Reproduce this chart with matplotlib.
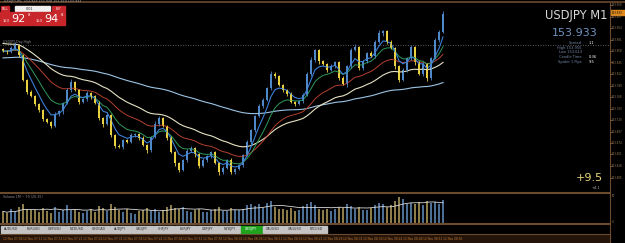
import matplotlib
matplotlib.use('Agg')
import matplotlib.pyplot as plt
import numpy as np
import pandas as pd
from matplotlib.patches import Rectangle

W, H = 625, 243

# USDJPY M1 closes, one per bar
closes = [
    153.858, 153.856, 153.864, 153.870, 153.850, 153.800, 153.776, 153.768, 153.752, 153.740,
    153.722, 153.716, 153.708, 153.732, 153.738, 153.754, 153.780, 153.796, 153.780, 153.756,
    153.762, 153.774, 153.768, 153.754, 153.724, 153.712, 153.730, 153.690, 153.668, 153.666,
    153.680, 153.676, 153.690, 153.692, 153.684, 153.670, 153.660, 153.686, 153.712, 153.724,
    153.708, 153.684, 153.656, 153.634, 153.620, 153.640, 153.658, 153.664, 153.652, 153.628,
    153.640, 153.648, 153.656, 153.634, 153.616, 153.624, 153.640, 153.616, 153.622, 153.630,
    153.650, 153.676, 153.700, 153.728, 153.748, 153.760, 153.784, 153.812, 153.808, 153.790,
    153.780, 153.772, 153.756, 153.752, 153.758, 153.770, 153.812, 153.840, 153.860, 153.838,
    153.832, 153.820, 153.828, 153.836, 153.804, 153.792, 153.828, 153.860, 153.866, 153.824,
    153.838, 153.854, 153.848, 153.876, 153.894, 153.898, 153.876, 153.864, 153.828, 153.800,
    153.820, 153.844, 153.866, 153.836, 153.812, 153.832, 153.804, 153.844, 153.880, 153.896,
    153.933,
]
first_open = 153.862

# wick lengths in points (0.001)
wick_up = [
    3, 2, 4, 6, 2, 3, 2, 4, 2, 3,
    2, 3, 2, 5, 3, 2, 4, 6, 3, 2,
    3, 4, 2, 3, 5, 2, 6, 3, 2, 4,
    2, 3, 5, 2, 3, 4, 2, 3, 6, 5,
    3, 2, 4, 3, 2, 3, 5, 4, 2, 3,
    4, 3, 2, 3, 2, 4, 3, 5, 2, 3,
    3, 4, 2, 3, 4, 5, 3, 6, 4, 3,
    2, 3, 4, 2, 3, 5, 4, 6, 3, 2,
    3, 2, 4, 3, 2, 5, 3, 4, 6, 2,
    3, 2, 5, 4, 6, 3, 2, 4, 3, 2,
    4, 3, 5, 2, 3, 4, 2, 3, 4, 5,
    6,
]
wick_dn = [
    2, 3, 2, 3, 4, 2, 3, 2, 4, 3,
    3, 2, 4, 2, 3, 5, 2, 3, 2, 4,
    2, 3, 5, 2, 3, 6, 2, 3, 4, 2,
    3, 2, 2, 4, 3, 2, 5, 3, 2, 4,
    2, 3, 2, 5, 3, 2, 3, 2, 6, 3,
    2, 4, 3, 2, 5, 3, 2, 4, 3, 2,
    3, 2, 4, 3, 2, 3, 2, 3, 4, 2,
    3, 4, 2, 3, 2, 3, 2, 4, 3, 5,
    2, 3, 2, 4, 3, 2, 5, 3, 2, 3,
    4, 3, 2, 3, 2, 5, 3, 2, 6, 3,
    2, 4, 3, 5, 2, 3, 6, 3, 2, 3,
    2,
]
volumes = [
    45, 38, 52, 41, 60, 72, 55, 48, 50, 43,
    58, 47, 40, 62, 44, 51, 66, 49, 53, 42,
    39, 47, 55, 41, 63, 57, 46, 70, 61, 48,
    44, 52, 40, 37, 45, 50, 58, 47, 55, 43,
    49, 60, 68, 57, 52, 61, 46, 42, 48, 55,
    44, 41, 50, 53, 62, 47, 45, 58, 51, 49,
    54, 66, 72, 64, 70, 58, 75, 82, 60, 55,
    52, 48, 57, 46, 50, 63, 71, 78, 66, 55,
    49, 52, 47, 53, 61, 58, 70, 64, 55, 62,
    50, 48, 56, 68, 74, 70, 62, 66, 80, 95,
    88, 72, 76, 70, 78, 66, 82, 75, 79, 72,
    85,
]

price_labels = [153.950, 153.927, 153.904, 153.881, 153.858, 153.835, 153.812, 153.789,
                153.766, 153.743, 153.720, 153.697, 153.674, 153.651, 153.628, 153.605]
symbols = ['AUDUSD', 'EURUSD', 'GBPUSD', 'NZDUSD', 'USDCAD', 'AUDJPY', 'CADJPY', 'CHFJPY',
           'EURJPY', 'GBPJPY', 'NZDJPY', 'USDJPY', 'XAUUSD', 'XAGUSD', 'BTCUSD']
date_labels = ['12 Nov 07:06', '12 Nov 07:11', '12 Nov 07:16', '12 Nov 07:21', '12 Nov 07:26',
               '12 Nov 07:31', '12 Nov 07:36', '12 Nov 07:41', '12 Nov 07:46', '12 Nov 07:51',
               '12 Nov 07:56', '12 Nov 08:01', '12 Nov 08:06', '12 Nov 08:11', '12 Nov 08:16',
               '12 Nov 08:21', '12 Nov 08:26', '12 Nov 08:31', '12 Nov 08:36', '12 Nov 08:41',
               '12 Nov 08:46', '12 Nov 08:51', '12 Nov 08:56']
prev_day_high = 153.870


def ema(vals, period, seed):
    k = 2.0 / (period + 1)
    out, e = [], seed
    for v in vals:
        e = e + k * (v - e)
        out.append(e)
    return out


def px_axes(fig, x0, y0, w, h):
    return fig.add_axes([x0 / W, 1 - (y0 + h) / H, w / W, h / H])


closes_a = np.array(closes)
opens = np.concatenate([[first_open], closes_a[:-1]])
highs = np.maximum(opens, closes_a) + np.array(wick_up) / 1000
lows = np.minimum(opens, closes_a) - np.array(wick_dn) / 1000
xs = np.arange(len(closes))
bull = closes_a >= opens

BULL, BEAR = '#4f88c8', '#e8d040'
BROWN = '#6b4a2e'

fig = plt.figure(figsize=(W / 100, H / 100), dpi=100, facecolor='black')

# main price panel
ax = px_axes(fig, 0, 3, 610, 189)
ax.set_facecolor('black')
xlim = (-0.75, 151.75)
ax.set_xlim(*xlim)
ax.set_ylim(153.960 - 192 / 500, 153.960 - 3 / 500)
ax.axhline(prev_day_high, color='#7a7a7a', lw=0.6, ls=(0, (1, 2)))

for period, seed, col, lw in [(100, 153.844, '#9cc4e4', 0.8), (34, 153.874, '#e6e2c4', 0.8),
                              (21, 153.858, '#b4402e', 0.7), (10, 153.858, '#2f9a5c', 0.7),
                              (5, 153.858, '#3b7fd6', 0.8)]:
    ax.plot(xs, ema(closes, period, seed), color=col, lw=lw)

cols = np.where(bull, BULL, BEAR)
ax.vlines(xs, lows, highs, colors=cols, lw=0.6)
body = np.maximum(np.abs(closes_a - opens), 0.0008)
ax.bar(xs, body, bottom=np.minimum(opens, closes_a), width=0.5, color=cols, lw=0)
for s in ax.spines.values():
    s.set_visible(False)
ax.set_xticks([])
ax.set_yticks([])

# volume panel
axv = px_axes(fig, 0, 193, 610, 31)
axv.set_facecolor('black')
axv.set_xlim(*xlim)
axv.set_ylim(0, 110)
vcols = np.where(bull, '#4d6e94', '#8c7c4a')
axv.bar(xs, volumes, width=0.45, color=vcols, lw=0)
vma = pd.Series(volumes).rolling(10, min_periods=1).mean()
axv.plot(xs, vma, color='#d8d8d8', lw=0.6)
axv.set_xticks([])
axv.set_yticks([])
for s in axv.spines.values():
    s.set_visible(False)

# overlay in pixel coordinates
ov = fig.add_axes([0, 0, 1, 1])
ov.set_xlim(0, W)
ov.set_ylim(H, 0)
ov.axis('off')
ov.patch.set_alpha(0)

ov.plot([0, 625], [2.5, 2.5], color=BROWN, lw=1.2)
ov.plot([0, 610], [192.8, 192.8], color=BROWN, lw=1.5)
ov.plot([0, 610], [224, 224], color=BROWN, lw=1.5)
ov.plot([610, 610], [3, 243], color=BROWN, lw=0.8)
ov.plot([0, 610], [234, 234], color=BROWN, lw=0.8)

# right price scale
for p in price_labels:
    y = (153.960 - p) * 500
    ov.plot([610, 611.5], [y, y], color='#8a6a4a', lw=0.5)
    ov.text(612, y, f'{p:.3f}', color='#a08060', fontsize=1.9, va='center', ha='left')
ov.add_patch(Rectangle((611, 10.5), 14, 5, color='#e08a1e'))
ov.text(612, 13, '153.933', color='black', fontsize=1.9, va='center', ha='left')
ov.text(612, 196, '50', color='#a08060', fontsize=1.9, va='center')
ov.text(612, 222, '0', color='#a08060', fontsize=1.9, va='center')

# title line and trade panel
ov.text(4, 1.2, 'USDJPY,M1  153.929 153.938 153.929 153.933', color='#b0b0b0', fontsize=2.3, va='center')
ov.add_patch(Rectangle((1, 6), 8, 5, color='#c8262a'))
ov.text(5, 8.5, 'SELL', color='white', fontsize=2, ha='center', va='center')
ov.add_patch(Rectangle((15, 6), 35, 5, color='#f0f0f0'))
ov.text(30, 8.5, '0.01', color='#202020', fontsize=2.4, ha='center', va='center')
ov.add_patch(Rectangle((52, 6), 13, 5, color='#c8262a'))
ov.text(58.5, 8.5, 'BUY', color='white', fontsize=2, ha='center', va='center')
for x0, big, small in [(0, '92', '8'), (33, '94', '8')]:
    ov.add_patch(Rectangle((x0, 12), 32, 13, color='#c8262a'))
    ov.text(x0 + 3, 20.5, '153', color='white', fontsize=2.6, va='center')
    ov.text(x0 + 11, 19, big, color='white', fontsize=8, va='center')
    ov.text(x0 + 27.5, 15, small, color='white', fontsize=2.8, va='center')

ov.text(3, 44, 'USDJPY Day High', color='#909090', fontsize=2.3, va='bottom')

# info block top right
ov.text(607, 15, 'USDJPY M1', color='#d8d8d8', fontsize=8.3, ha='right', va='center')
ov.text(598, 33.5, '153.933', color='#6f93bf', fontsize=8, ha='right', va='center')
for y, lab, val in [(43, 'Spread', '1.1'), (47.5, 'High 153.955', ''), (52, 'Low 153.613', ''),
                    (57, 'Candle Time', '0:36'), (62, 'Spider 1 Pips', '9.5')]:
    ov.text(582, y, lab, color='#7488aa', fontsize=2.6, ha='right', va='center')
    ov.text(589, y, val, color='white', fontsize=2.6, ha='left', va='center')
ov.text(603, 178, '+9.5', color='#e8d47a', fontsize=8, ha='right', va='center')
ov.text(600, 188, '+4.1', color='#b0b0b0', fontsize=2.6, ha='right', va='center')

ov.text(3, 196.5, 'Volume 1M ~ 70 (20.35)', color='#909090', fontsize=2.3, va='center')

# symbol tabs
tab_w = 21.8
for k, sym in enumerate(symbols):
    x0 = 1 + k * tab_w
    active = sym == 'USDJPY'
    ov.add_patch(Rectangle((x0, 225.5), tab_w - 1, 7, color='#1fa31f' if active else '#c4c4c4'))
    ov.text(x0 + (tab_w - 1) / 2, 229, sym, color='white' if active else '#303030',
            fontsize=2.3, ha='center', va='center')

# date row
ov.add_patch(Rectangle((0, 234.5), 610, 8.5, color='#24140a'))
for k, lab in enumerate(date_labels):
    ov.text(3 + k * 20, 238.5, lab, color='#c07830', fontsize=2.1, va='center')

fig.savefig('out.png', dpi=100, facecolor='black')
